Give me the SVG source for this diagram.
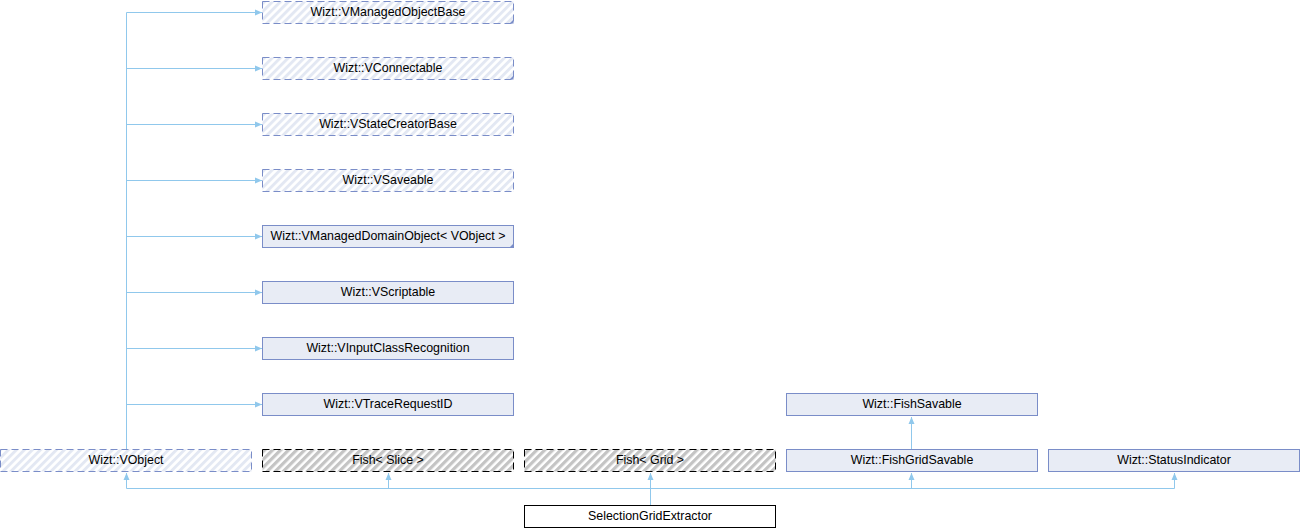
<svg xmlns="http://www.w3.org/2000/svg" width="1300" height="528" viewBox="0 0 1300 528">
<style>
.box{fill:#E8ECF5;stroke:#7A8DC8;stroke-width:1}
.hb{fill:url(#hatchBlue);stroke:#7A8DC8;stroke-width:1;stroke-dasharray:7,4}
.hg{fill:url(#hatchGray);stroke:#000;stroke-width:1;stroke-dasharray:7,4}
.main{fill:#fff;stroke:#000;stroke-width:1}
.tri{fill:#7A8DC8}
text{font-family:"Liberation Sans",Arial,sans-serif;font-size:12.4px;fill:#000;text-anchor:middle}
.edge{fill:none;stroke:#90C8EC;stroke-width:1}
</style>
<defs>
<pattern id="hatchBlue" patternUnits="userSpaceOnUse" width="5.66" height="5.66" patternTransform="rotate(45)">
<rect width="5.66" height="5.66" fill="#fff"/>
<rect width="2.9" height="5.66" fill="#E3E8F3"/>
</pattern>
<pattern id="hatchGray" patternUnits="userSpaceOnUse" width="5.66" height="5.66" patternTransform="rotate(45)">
<rect width="5.66" height="5.66" fill="#fff"/>
<rect width="3.2" height="5.66" fill="#C4C4C4"/>
</pattern>
<marker id="arr" markerUnits="userSpaceOnUse" markerWidth="8" markerHeight="8" refX="7" refY="4" orient="auto">
<path d="M0,1 L7,4 L0,7 Z" fill="#90C8EC"/>
</marker>
</defs>
<g id="connectors">
<path class="edge" d="M126.5,449 V12.5"/>
<path class="edge" d="M126.5,12.5 H262" marker-end="url(#arr)"/>
<path class="edge" d="M126.5,68.5 H262" marker-end="url(#arr)"/>
<path class="edge" d="M126.5,124.5 H262" marker-end="url(#arr)"/>
<path class="edge" d="M126.5,180.5 H262" marker-end="url(#arr)"/>
<path class="edge" d="M126.5,236.5 H262" marker-end="url(#arr)"/>
<path class="edge" d="M126.5,292.5 H262" marker-end="url(#arr)"/>
<path class="edge" d="M126.5,348.5 H262" marker-end="url(#arr)"/>
<path class="edge" d="M126.5,404.5 H262" marker-end="url(#arr)"/>
<path class="edge" d="M911.5,449 V417" marker-end="url(#arr)"/>
<path class="edge" d="M650.5,505 V473" marker-end="url(#arr)"/>
<path class="edge" d="M126.5,488.5 H1174.5"/>
<path class="edge" d="M126.5,488.5 V473" marker-end="url(#arr)"/>
<path class="edge" d="M388.5,488.5 V473" marker-end="url(#arr)"/>
<path class="edge" d="M911.5,488.5 V473" marker-end="url(#arr)"/>
<path class="edge" d="M1174.5,488.5 V473" marker-end="url(#arr)"/>
</g>
<g id="n_VManagedObjectBase">
<rect class="hb" x="262.5" y="1.5" width="251" height="22"/>
<path class="tri" d="M513.5,19.5 V23.5 H509.5 Z"/>
<text x="388" y="16">Wizt::VManagedObjectBase</text>
</g>
<g id="n_VConnectable">
<rect class="hb" x="262.5" y="57.5" width="251" height="22"/>
<path class="tri" d="M513.5,75.5 V79.5 H509.5 Z"/>
<text x="388" y="72">Wizt::VConnectable</text>
</g>
<g id="n_VStateCreatorBase">
<rect class="hb" x="262.5" y="113.5" width="251" height="22"/>
<text x="388" y="128">Wizt::VStateCreatorBase</text>
</g>
<g id="n_VSaveable">
<rect class="hb" x="262.5" y="169.5" width="251" height="22"/>
<text x="388" y="184">Wizt::VSaveable</text>
</g>
<g id="n_VManagedDomainObject">
<rect class="box" x="262.5" y="225.5" width="251" height="22"/>
<path class="tri" d="M513.5,243.5 V247.5 H509.5 Z"/>
<text x="388" y="240">Wizt::VManagedDomainObject&lt; VObject &gt;</text>
</g>
<g id="n_VScriptable">
<rect class="box" x="262.5" y="281.5" width="251" height="22"/>
<text x="388" y="296">Wizt::VScriptable</text>
</g>
<g id="n_VInputClassRecognition">
<rect class="box" x="262.5" y="337.5" width="251" height="22"/>
<text x="388" y="352">Wizt::VInputClassRecognition</text>
</g>
<g id="n_VTraceRequestID">
<rect class="box" x="262.5" y="393.5" width="251" height="22"/>
<text x="388" y="408">Wizt::VTraceRequestID</text>
</g>
<g id="n_VObject">
<rect class="hb" x="0.5" y="449.5" width="251" height="22"/>
<text x="126" y="464">Wizt::VObject</text>
</g>
<g id="n_FishSlice">
<rect class="hg" x="262.5" y="449.5" width="251" height="22"/>
<text x="388" y="464">Fish&lt; Slice &gt;</text>
</g>
<g id="n_FishGrid">
<rect class="hg" x="524.5" y="449.5" width="251" height="22"/>
<text x="650" y="464">Fish&lt; Grid &gt;</text>
</g>
<g id="n_FishSavable">
<rect class="box" x="786.5" y="393.5" width="251" height="22"/>
<text x="912" y="408">Wizt::FishSavable</text>
</g>
<g id="n_FishGridSavable">
<rect class="box" x="786.5" y="449.5" width="251" height="22"/>
<text x="912" y="464">Wizt::FishGridSavable</text>
</g>
<g id="n_StatusIndicator">
<rect class="box" x="1048.5" y="449.5" width="251" height="22"/>
<text x="1174" y="464">Wizt::StatusIndicator</text>
</g>
<g id="n_SelectionGridExtractor">
<rect class="main" x="524.5" y="505.5" width="251" height="22"/>
<text x="650" y="520">SelectionGridExtractor</text>
</g>
</svg>
